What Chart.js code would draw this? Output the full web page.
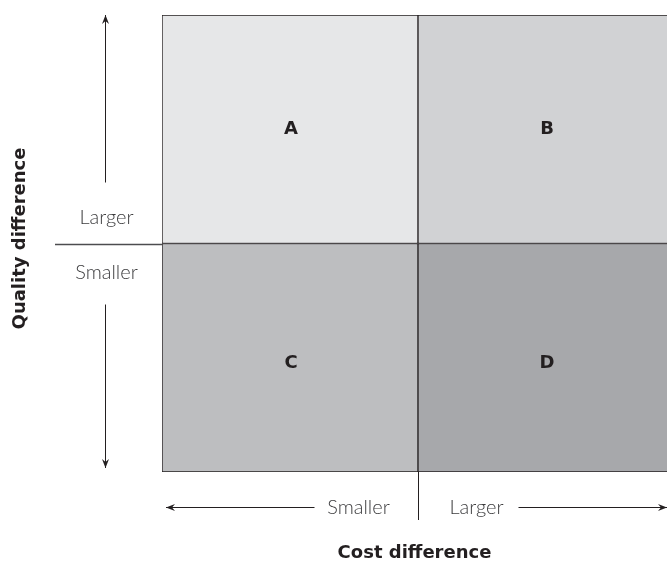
<!DOCTYPE html>
<html>
<head>
<meta charset="utf-8">
<script src="https://cdn.jsdelivr.net/npm/chart.js@4"></script>
<style>
  html, body { margin: 0; padding: 0; background: #fff; overflow: hidden; }
  #wrap { width: 674px; height: 583px; }
</style>
</head>
<body>
<div id="wrap"><canvas id="quad" width="674" height="583"></canvas></div>
<script>
// cost difference categories (x) and quality difference levels (y)
const costLabels = ['Smaller', 'Larger'];
const qualityLabels = ['Smaller', 'Larger'];
// quadrant letters, bottom row then top row
const lowerLetters = ['C', 'D'];
const upperLetters = ['A', 'B'];
const lowerValues = [1, 1];
const upperValues = [1, 1];
const lowerColors = ['#bdbec0', '#a7a8ab'];
const upperColors = ['#e6e7e8', '#d1d2d4'];

const lightFont = '300 20px Lato, "Open Sans", sans-serif';
const letterFont = 'bold 18px "DejaVu Sans", sans-serif';
const titleFont = 'bold 18px "DejaVu Sans", sans-serif';

function arrow(ctx, x1, y1, x2, y2) {
    // line from (x1,y1) to arrow tip (x2,y2)
    let ang = Math.atan2(y2 - y1, x2 - x1);
    ctx.beginPath();
    ctx.moveTo(x1, y1);
    ctx.lineTo(x2, y2);
    ctx.stroke();
    ctx.beginPath();
    ctx.moveTo(x2, y2);
    ctx.lineTo(x2 - 9 * Math.cos(ang) + 3.5 * Math.sin(ang), y2 - 9 * Math.sin(ang) - 3.5 * Math.cos(ang));
    ctx.lineTo(x2 - 6 * Math.cos(ang), y2 - 6 * Math.sin(ang));
    ctx.lineTo(x2 - 9 * Math.cos(ang) - 3.5 * Math.sin(ang), y2 - 9 * Math.sin(ang) + 3.5 * Math.cos(ang));
    ctx.closePath();
    ctx.fill();
}

const extras = {
    id: 'extras',
    afterDatasetsDraw(chart) {
        let ctx = chart.ctx;
        let xs = chart.scales.x, ys = chart.scales.y;
        let area = chart.chartArea;
        let midX = Math.round((xs.getPixelForValue(0) + xs.getPixelForValue(1)) / 2) + 0.5;
        let midY = Math.round(ys.getPixelForValue(1)) + 0.5;
        ctx.save();

        // letters at segment centres
        ctx.fillStyle = '#231f20';
        ctx.font = letterFont;
        ctx.textAlign = 'center';
        ctx.textBaseline = 'middle';
        [lowerLetters, upperLetters].forEach((letters, di) => {
            chart.getDatasetMeta(di).data.forEach((bar, i) => {
                let c = bar.getCenterPoint();
                ctx.fillText(letters[i], c.x + 1, c.y + (di === 0 ? 6 : 0));
            });
        });

        // divider lines outside the box
        ctx.strokeStyle = '#4d4d4f';
        ctx.lineWidth = 1.5;
        ctx.beginPath();
        ctx.moveTo(55, midY);
        ctx.lineTo(area.left, midY);
        ctx.stroke();
        ctx.strokeStyle = '#231f20';
        ctx.lineWidth = 1;
        ctx.beginPath();
        ctx.moveTo(midX, area.bottom);
        ctx.lineTo(midX, area.bottom + 48);
        ctx.stroke();

        // quality arrows and labels
        let ax = 105.5;
        ctx.fillStyle = '#231f20';
        arrow(ctx, ax, midY - 62, ax, area.top);
        arrow(ctx, ax, midY + 60, ax, area.bottom - 4);
        ctx.font = lightFont;
        ctx.fillStyle = '#3b3b3d';
        ctx.fillText(qualityLabels[1], ax + 1, midY - 27);
        ctx.fillText(qualityLabels[0], ax + 1, midY + 28);

        // cost arrows and labels
        let ay = area.bottom + 35.5;
        ctx.fillStyle = '#231f20';
        arrow(ctx, midX - 104, ay, area.left + 4, ay);
        arrow(ctx, midX + 100, ay, 667, ay);
        ctx.fillStyle = '#3b3b3d';
        ctx.fillText(costLabels[0], midX - 60, ay);
        ctx.fillText(costLabels[1], midX + 58, ay);

        // axis titles
        ctx.fillStyle = '#231f20';
        ctx.font = titleFont;
        ctx.fillText('Cost difference', midX - 4, 553);
        ctx.translate(20, midY - 6);
        ctx.rotate(-Math.PI / 2);
        ctx.fillText('Quality difference', 0, 0);
        ctx.restore();
    }
};

let ctx = document.getElementById('quad');
new Chart(ctx, {
    type: 'bar',
    data: {
        labels: costLabels,
        datasets: [
            { label: qualityLabels[0], data: lowerValues, backgroundColor: lowerColors },
            { label: qualityLabels[1], data: upperValues, backgroundColor: upperColors }
        ]
    },
    options: {
        responsive: false,
        animation: false,
        layout: { padding: { left: 162, top: 15, right: 0, bottom: 111 } },
        datasets: {
            bar: {
                barPercentage: 1,
                categoryPercentage: 1,
                borderColor: '#231f20',
                borderWidth: 1,
                borderSkipped: false
            }
        },
        scales: {
            x: { stacked: true, display: false },
            y: { stacked: true, display: false, min: 0, max: 2 }
        },
        plugins: {
            legend: { display: false },
            tooltip: { enabled: false }
        }
    },
    plugins: [extras]
});
</script>
</body>
</html>
